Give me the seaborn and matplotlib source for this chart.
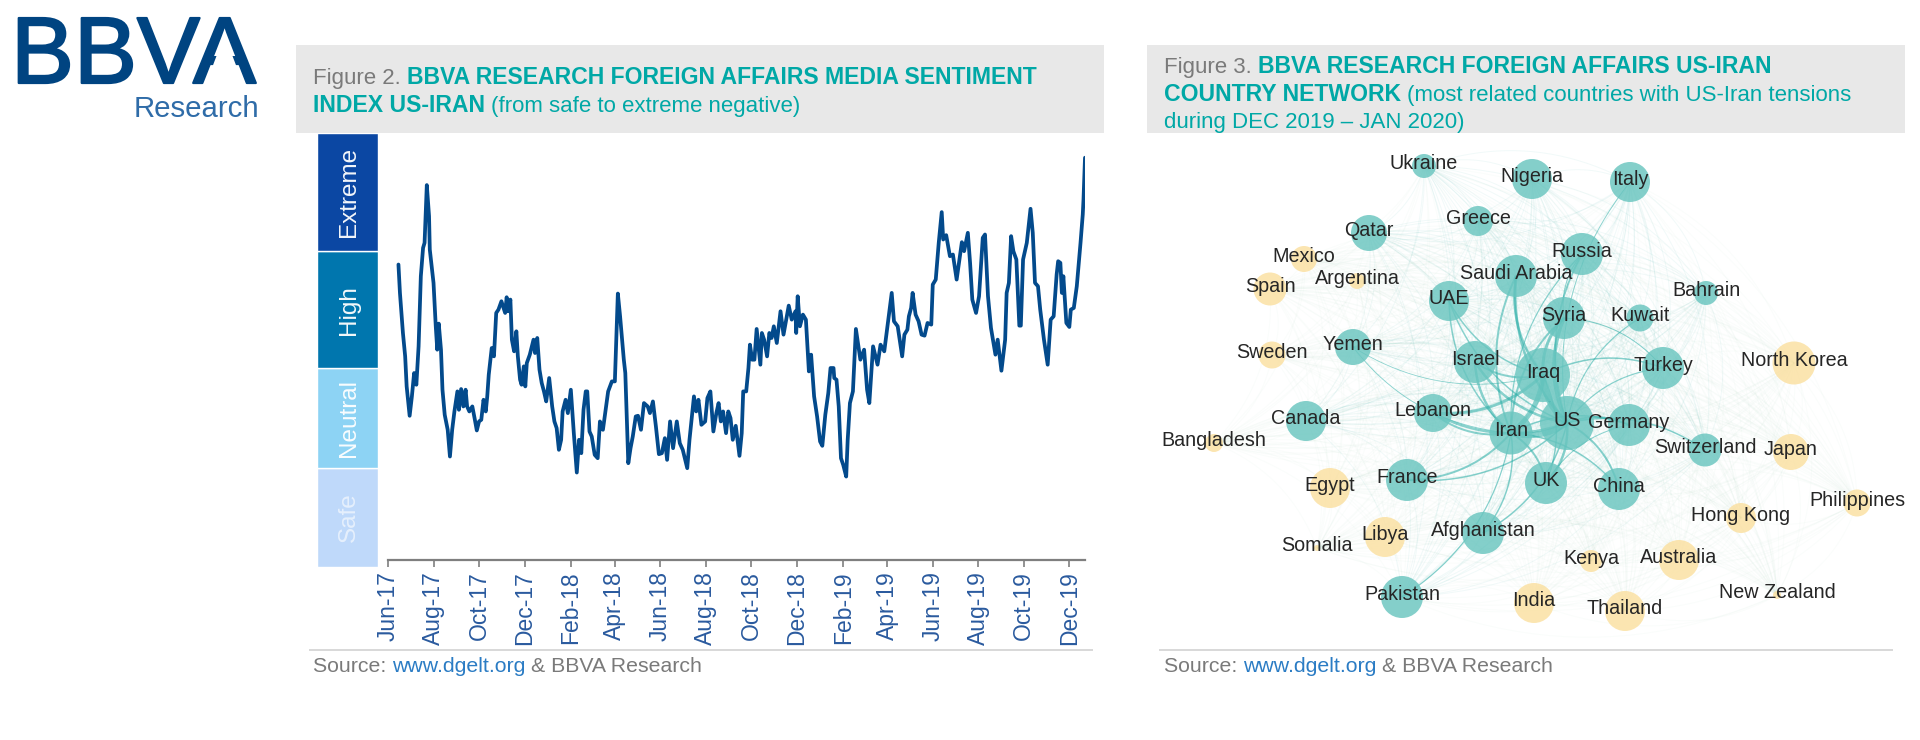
"""
BBVA Research foreign affairs figures: US-Iran media sentiment index and country network.
"""
from itertools import combinations

import matplotlib.patheffects as pe
import matplotlib.pyplot as plt
import numpy as np
import pandas as pd
import seaborn as sns
from matplotlib.collections import LineCollection
from matplotlib.patches import Polygon, Rectangle

WIDTH, HEIGHT = 1920, 740

# Figure 2: days since 1 Jun 2017 and sentiment index (0 = bottom of the Safe band)
sentiment_days = [
    14, 16, 20, 23, 25, 29, 32, 35, 38, 41, 44, 47, 49, 52, 55, 56, 61, 64, 66, 68, 71, 73, 76, 80, 83, 86, 89, 93,
    95, 98, 101, 104, 106, 109, 113, 116, 119, 122, 125, 128, 131, 133, 135, 139, 142, 145, 148, 152, 157, 159,
    161, 164, 166, 169, 172, 174, 177, 179, 182, 184, 186, 190, 195, 197, 200, 203, 206, 209, 212, 216, 220, 223,
    226, 229, 232, 234, 238, 241, 245, 249, 251, 253, 256, 259, 262, 265, 267, 270, 273, 277, 281, 284, 288, 291,
    295, 300, 304, 308, 311, 316, 318, 322, 325, 328, 332, 335, 339, 343, 348, 351, 355, 359, 363, 367, 371, 374,
    378, 382, 387, 391, 395, 401, 404, 410, 413, 416, 420, 425, 428, 432, 436, 440, 443, 446, 449, 453, 456, 459,
    462, 466, 471, 474, 476, 480, 483, 485, 488, 491, 494, 499, 501, 504, 508, 511, 514, 517, 521, 526, 530, 537,
    541, 546, 547, 549, 552, 556, 560, 564, 567, 571, 575, 579, 582, 586, 590, 593, 597, 598, 601, 604, 607, 610,
    614, 616, 619, 623, 627, 633, 638, 642, 645, 650, 656, 660, 665, 671, 675, 678, 683, 689, 692, 696, 698, 701,
    703, 707, 711, 715, 719, 723, 728, 730, 734, 738, 742, 744, 748, 753, 757, 762, 769, 772, 777, 780, 783, 788,
    792, 797, 800, 804, 808, 814, 817, 822, 827, 829, 832, 835, 838, 842, 846, 848, 851, 856, 861, 864, 867, 871,
    874, 879, 884, 888, 892, 896, 898, 901, 903, 905, 909, 913, 915, 919, 923, 928, 931, 932, 934,
]
sentiment_index = [
    90.6, 82.1, 70.1, 63.1, 54.1, 45.3, 51.1, 58.1, 54.6, 66.1, 87.1, 95.6, 97.1, 114.4, 105.1, 95.1, 85.1, 72.1,
    65.1, 72.9, 65.1, 53.1, 45.6, 41.1, 33.1, 41.1, 46.6, 52.6, 47.1, 53.3, 48.1, 53.1, 48.1, 46.6, 48.1, 44.6,
    40.9, 43.6, 44.1, 50.1, 46.6, 51.1, 57.6, 65.6, 63.1, 76.1, 77.1, 79.6, 76.1, 80.8, 76.6, 80.1, 68.1, 64.6,
    70.6, 63.1, 56.1, 54.6, 60.1, 54.1, 61.1, 63.6, 68.1, 64.1, 68.6, 59.1, 55.1, 52.6, 49.6, 56.6, 48.1, 43.6,
    41.6, 35.1, 38.1, 46.6, 50.1, 46.1, 53.1, 40.1, 34.1, 28.3, 38.1, 34.1, 47.1, 52.6, 52.6, 40.6, 39.1, 33.6,
    32.6, 43.6, 41.1, 46.1, 52.6, 55.6, 55.6, 81.9, 75.1, 62.1, 58.1, 31.1, 35.6, 39.1, 45.1, 45.3, 41.1, 49.1,
    48.1, 46.1, 49.6, 42.1, 33.8, 34.1, 38.6, 32.1, 43.6, 35.6, 43.6, 37.1, 35.1, 29.6, 38.1, 51.1, 46.6, 50.1,
    42.6, 43.6, 50.6, 52.6, 40.6, 46.1, 49.1, 43.6, 46.6, 40.1, 46.6, 44.6, 38.1, 42.3, 33.3, 40.1, 52.6, 52.6,
    59.6, 66.6, 62.1, 62.1, 71.3, 60.6, 70.1, 68.1, 63.1, 70.1, 68.6, 72.1, 67.1, 76.6, 69.6, 78.3, 74.1, 76.6,
    70.1, 81.1, 72.1, 75.6, 74.1, 58.6, 63.6, 51.1, 45.1, 37.6, 36.3, 45.6, 52.1, 59.6, 59.6, 56.6, 56.1, 48.1,
    32.6, 30.6, 27.1, 38.1, 49.1, 52.6, 71.3, 62.1, 65.1, 53.1, 49.1, 66.1, 60.6, 66.6, 64.6, 75.1, 82.1, 73.6,
    72.1, 63.1, 69.6, 71.1, 75.1, 77.6, 82.1, 75.6, 73.6, 69.6, 69.3, 73.1, 72.6, 84.6, 86.1, 97.1, 106.3, 98.1,
    99.4, 93.1, 93.6, 86.1, 97.3, 94.6, 100.1, 91.1, 80.1, 76.1, 81.1, 98.6, 99.6, 81.1, 71.6, 63.6, 68.1, 58.8,
    68.1, 82.1, 85.1, 99.1, 94.6, 92.1, 72.3, 72.3, 92.1, 97.1, 107.3, 100.1, 85.1, 84.1, 77.1, 68.1, 60.6, 74.1,
    75.1, 87.6, 91.6, 91.1, 82.1, 87.1, 73.1, 71.9, 77.1, 77.6, 84.1, 97.1, 105.6, 110.1, 122.6,
]
tick_dates = [
    "2017-06-01", "2017-08-01", "2017-10-01", "2017-12-01", "2018-02-01", "2018-04-01", "2018-06-01", "2018-08-01",
    "2018-10-01", "2018-12-01", "2019-02-01", "2019-04-01", "2019-06-01", "2019-08-01", "2019-10-01", "2019-12-01",
]
tick_labels = [
    "Jun-17", "Aug-17", "Oct-17", "Dec-17", "Feb-18", "Apr-18", "Jun-18", "Aug-18",
    "Oct-18", "Dec-18", "Feb-19", "Apr-19", "Jun-19", "Aug-19", "Oct-19", "Dec-19",
]
band_names = ["Safe", "Neutral", "High", "Extreme"]
band_floor = [0, 29.8, 59.6, 94.6]
band_height = [29.8, 29.8, 35.0, 35.4]
band_colors = ["#BFD9FA", "#8DD3F4", "#0076AE", "#0B47A3"]

# Figure 3: network layout, node radius and group
countries = [
    "Ukraine", "Nigeria", "Italy", "Greece", "Qatar", "Mexico", "Argentina", "Spain", "Saudi Arabia", "Russia",
    "UAE", "Bahrain", "Syria", "Kuwait", "Yemen", "Sweden", "Israel", "Iraq", "Turkey", "North Korea", "Canada",
    "Lebanon", "Bangladesh", "Iran", "US", "Germany", "Switzerland", "Japan", "Egypt", "France", "UK", "China",
    "Philippines", "Hong Kong", "Libya", "Somalia", "Afghanistan", "Kenya", "Australia", "New Zealand", "Pakistan",
    "India", "Thailand",
]
layout_x = [
    1424, 1532, 1630, 1478, 1369, 1304, 1357, 1270, 1516, 1582, 1449, 1706, 1564, 1640, 1353, 1272, 1475, 1543,
    1663, 1794, 1306, 1433, 1214, 1511, 1567, 1629, 1705, 1791, 1330, 1407, 1546, 1619, 1857, 1741, 1385, 1317,
    1483, 1591, 1679, 1777, 1402, 1534, 1625,
]
layout_y = [
    166, 179, 182, 221, 233, 259, 281, 289, 276, 254, 301, 293, 318, 318, 347, 355, 362, 375, 368, 363, 421, 413,
    443, 433, 423, 425, 450, 452, 488, 480, 483, 489, 503, 518, 537, 548, 533, 561, 560, 595, 597, 603, 611,
]
node_radius = [
    12, 20, 20, 15, 18, 13, 8, 16.5, 21, 21, 20, 12, 21, 13.5, 18, 13.5, 21, 27, 21, 21.5, 20, 19, 9, 21.5, 27, 21,
    16.5, 18, 20, 21, 21, 21, 13.5, 15, 20, 3, 21, 11, 20, 4, 21, 20, 20,
]
node_group = [
    "core", "core", "core", "core", "core", "outer", "outer", "outer", "core", "core", "core", "core", "core", "core",
    "core", "outer", "core", "core", "core", "outer", "core", "core", "outer", "core", "core", "core", "core", "outer",
    "outer", "core", "core", "core", "outer", "outer", "outer", "outer", "core", "outer", "outer", "outer", "core",
    "outer", "outer",
]
strong_edges = [
    ("US", "Iraq", 6), ("US", "Iran", 6), ("Iraq", "Iran", 5), ("US", "Syria", 3.5), ("Iraq", "Syria", 3),
    ("Iran", "Israel", 2.5), ("US", "Israel", 2.5), ("US", "Saudi Arabia", 2.5), ("Iraq", "Saudi Arabia", 2.5),
    ("Iran", "Saudi Arabia", 2), ("US", "UK", 2.5), ("Iran", "UK", 2), ("US", "China", 2), ("US", "Germany", 2),
    ("Iran", "France", 2), ("US", "Lebanon", 2.5), ("Iraq", "Lebanon", 3), ("Iran", "Lebanon", 2),
    ("US", "Afghanistan", 1.5), ("Iran", "Afghanistan", 1.5), ("Iran", "Pakistan", 1.2), ("US", "Switzerland", 1.5),
    ("US", "Russia", 1.8), ("Iran", "Russia", 1.2), ("Iraq", "Turkey", 1.5), ("US", "Turkey", 1.2), ("US", "UAE", 1.5),
    ("Iran", "UAE", 1.5), ("Iraq", "UAE", 1.5), ("Iran", "Syria", 2), ("Iraq", "Israel", 2), ("US", "France", 1.5),
    ("Iran", "Germany", 1.5), ("US", "Kuwait", 1.2), ("US", "Italy", 0.9), ("Syria", "Turkey", 1), ("Syria", "Russia", 1),
    ("Iran", "China", 1.5), ("UK", "Germany", 1), ("Iraq", "UK", 1.5), ("Iraq", "Yemen", 0.8), ("Iran", "Yemen", 0.9),
]

LINE_COLOR = "#034A8C"
TEAL = "#00A8A6"
GREY_TEXT = "#7A7A7A"
LINK_BLUE = "#2B7CC4"
LOGO_BLUE = "#004481"

sns.set_theme(style="white")
plt.rcParams["font.family"] = ["Liberation Sans", "DejaVu Sans"]


def add_axes_px(fig, left, top, right, bottom, **kwargs):
    """Add an axes placed by reference pixel edges."""
    return fig.add_axes([left / WIDTH, 1 - bottom / HEIGHT, (right - left) / WIDTH, (bottom - top) / HEIGHT], **kwargs)


def add_rect_px(fig, left, top, right, bottom, color):
    """Add a filled figure rectangle placed by reference pixel edges."""
    fig.add_artist(Rectangle((left / WIDTH, 1 - bottom / HEIGHT), (right - left) / WIDTH, (bottom - top) / HEIGHT,
                             transform=fig.transFigure, facecolor=color, edgecolor="none"))


def rich_line(fig, x, baseline, parts, size, bold_size=None):
    """Write (text, color, weight) parts one after the other on one baseline."""
    renderer = fig.canvas.get_renderer()
    for text, color, weight in parts:
        part_size = bold_size if weight == "bold" and bold_size else size
        item = fig.text(x / WIDTH, 1 - baseline / HEIGHT, text, color=color, fontweight=weight, fontsize=part_size,
                        ha="left", va="baseline")
        x += item.get_window_extent(renderer).width


def draw_logo(fig):
    """Draw the BBVA logo text; the logo's A has no crossbar, so that part is masked."""
    fig.text(11 / WIDTH, 1 - 83 / HEIGHT, "BBVA", color=LOGO_BLUE, fontsize=68, ha="left", va="baseline",
             path_effects=[pe.withStroke(linewidth=1.6, foreground=LOGO_BLUE)])
    inner = [(205.5, 85), (243.5, 85), (231, 52), (218, 52)]
    fig.add_artist(Polygon([(x / WIDTH, 1 - y / HEIGHT) for x, y in inner], transform=fig.transFigure,
                           facecolor="white", edgecolor="none", zorder=5))
    fig.text(134 / WIDTH, 1 - 117 / HEIGHT, "Research", color="#2F6CA8", fontsize=21.2, ha="left", va="baseline")


def draw_sentiment(fig):
    """Draw the band strip and the sentiment line of Figure 2."""
    strip = add_axes_px(fig, 317, 133, 378, 567)
    strip.bar(0, band_height, bottom=band_floor, width=1, color=band_colors, align="edge")
    strip.set_xlim(0, 1)
    strip.set_ylim(0, 130)
    strip.axis("off")
    for name, floor, height in zip(band_names, band_floor, band_height):
        strip.text(0.53, floor + height / 2, name, color="white", alpha=0.6 if name == "Safe" else 0.95,
                   rotation=90, ha="center", va="center", fontsize=17.5)

    start = pd.Timestamp("2017-06-01")
    frame = pd.DataFrame({"date": start + pd.to_timedelta(sentiment_days, unit="D"), "index": sentiment_index})
    ax = add_axes_px(fig, 388, 133, 1085, 560)
    ax.patch.set_alpha(0)
    sns.lineplot(data=frame, x="date", y="index", color=LINE_COLOR, linewidth=2.7, estimator=None, sort=False, ax=ax)
    ax.set_ylim(2.1, 130)
    ax.set_xlim(start, start + pd.Timedelta(days=934))
    ax.set_xticks(pd.to_datetime(tick_dates))
    ax.set_xticklabels(tick_labels, rotation=90, fontsize=16.5, color="#2A5A9E")
    ax.tick_params(axis="x", length=5, width=1.2, color="#7F7F7F", pad=3, bottom=True)
    ax.set_yticks([])
    ax.set_xlabel("")
    ax.set_ylabel("")
    sns.despine(ax=ax, left=True)
    ax.spines["bottom"].set_color("#7F7F7F")
    ax.spines["bottom"].set_linewidth(1.6)


def edge_curve(a, b):
    """Sample a curved edge between two node positions."""
    a, b = np.array(a, float), np.array(b, float)
    control = (a + b) / 2 + 0.22 * np.array([b[1] - a[1], a[0] - b[0]])
    t = np.linspace(0, 1, 24)[:, None]
    return (1 - t) ** 2 * a + 2 * t * (1 - t) * control + t ** 2 * b


def draw_network(fig):
    """Draw the country network of Figure 3."""
    ax = add_axes_px(fig, 1140, 130, 1920, 650)
    ax.axis("off")

    frame = pd.DataFrame({"country": countries, "x": layout_x, "y": layout_y, "radius": node_radius,
                          "group": node_group})
    spot = {row.country: (row.x, row.y) for row in frame.itertuples()}
    group = dict(zip(countries, node_group))

    # every pair shares one faint arc, the pale haze of the original
    core_pairs = [p for p in combinations(countries, 2) if group[p[0]] == group[p[1]] == "core"]
    other_pairs = [p for p in combinations(countries, 2) if p not in set(core_pairs)]
    ax.add_collection(LineCollection([edge_curve(spot[a], spot[b]) for a, b in core_pairs],
                                     colors="#3FB3AA", linewidths=0.7, alpha=0.07))
    ax.add_collection(LineCollection([edge_curve(spot[a], spot[b]) for a, b in other_pairs],
                                     colors="#A9D8BE", linewidths=0.7, alpha=0.05))
    for a, b, weight in strong_edges:
        ax.add_collection(LineCollection([edge_curve(spot[a], spot[b])], colors="#2DAFA8", linewidths=weight * 0.72,
                                         alpha=0.55))

    sizes = (frame["radius"] * 2 * 72 / 100) ** 2
    sns.scatterplot(data=frame, x="x", y="y", hue="group", palette={"core": "#69C5BF", "outer": "#FBE0A0"},
                    s=sizes, alpha=0.82, linewidth=0, legend=False, ax=ax, zorder=3)
    ax.set_xlim(1140, 1920)
    ax.set_ylim(650, 130)
    ax.set_xlabel("")
    ax.set_ylabel("")
    for row in frame.itertuples():
        ax.text(row.x, row.y - 2.5, row.country, ha="center", va="center", fontsize=14.2, color="#262626", zorder=4)


def main():
    fig = plt.figure(figsize=(WIDTH / 100, HEIGHT / 100), dpi=100, facecolor="white")
    fig.canvas.draw()

    add_rect_px(fig, 296, 45, 1104, 133, "#E8E8E8")
    add_rect_px(fig, 1147, 45, 1905, 133, "#E8E8E8")
    add_rect_px(fig, 309, 649, 1093, 651, "#D9D9D9")
    add_rect_px(fig, 1159, 649, 1893, 651, "#D9D9D9")
    draw_logo(fig)

    regular, bold = 16.05, 16.55
    rich_line(fig, 313, 84, [("Figure 2. ", GREY_TEXT, "normal"),
                             ("BBVA RESEARCH FOREIGN AFFAIRS MEDIA SENTIMENT", TEAL, "bold")], regular, bold)
    rich_line(fig, 313, 112, [("INDEX US-IRAN ", TEAL, "bold"),
                              ("(from safe to extreme negative)", TEAL, "normal")], regular, bold)
    rich_line(fig, 1164, 73, [("Figure 3. ", GREY_TEXT, "normal"),
                              ("BBVA RESEARCH FOREIGN AFFAIRS US-IRAN", TEAL, "bold")], regular, bold)
    rich_line(fig, 1164, 101, [("COUNTRY NETWORK ", TEAL, "bold"),
                               ("(most related countries with US-Iran tensions", TEAL, "normal")], regular, bold)
    rich_line(fig, 1164, 128, [("during DEC 2019 \u2013 JAN 2020)", TEAL, "normal")], regular, bold)

    draw_sentiment(fig)
    draw_network(fig)

    source = [("Source: ", GREY_TEXT, "normal"), ("www.dgelt.org ", LINK_BLUE, "normal"),
              ("& BBVA Research", GREY_TEXT, "normal")]
    rich_line(fig, 313, 672, source, 15.3)
    rich_line(fig, 1164, 672, source, 15.3)

    fig.savefig("out.png", dpi=100)


if __name__ == "__main__":
    main()
